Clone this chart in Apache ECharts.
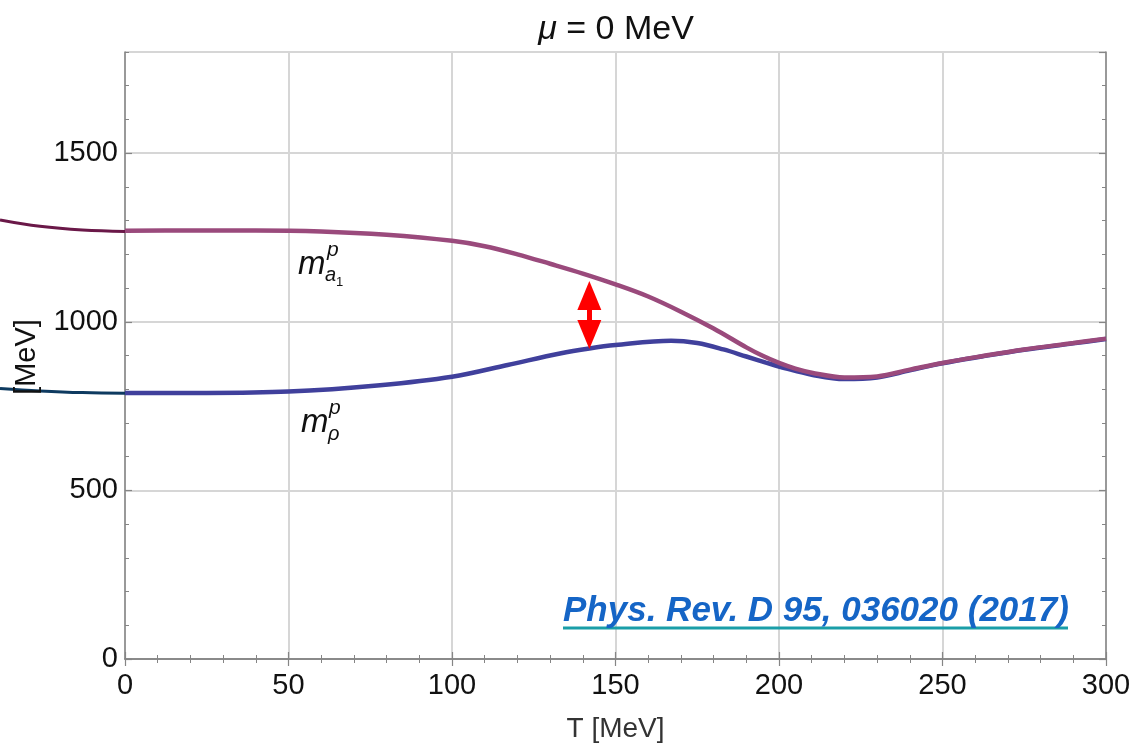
<!DOCTYPE html>
<html>
<head>
<meta charset="utf-8">
<script src="https://cdn.jsdelivr.net/npm/echarts@6/dist/echarts.min.js"></script>
<style>html,body{margin:0;padding:0;background:#fff}#c{width:1141px;height:749px}</style>
</head>
<body>
<div id="c"></div>
<script>
// ---- data ----
const titleText = 'μ = 0 MeV';
const xName = 'T [MeV]';
const yName = '[MeV]';
const refText = 'Phys. Rev. D 95, 036020 (2017)';
const xTicks = [0, 50, 100, 150, 200, 250, 300];
const yTicks = [0, 500, 1000, 1500];
// m_a1^p
const a1Mass = [[0,1270],[20,1271],[40,1271],[60,1268],[80,1258],[100,1240],[110,1224],[120,1200],[130,1172],[140,1143],[150,1111],[160,1075],[170,1030],[180,980],[190,924],[195,899],[200,878],[205,861],[210,849],[220,835],[230,838],[240,858],[250,878],[262,898],[275,918],[290,937],[300,950]];
// m_rho^p
const rhoMass = [[0,789],[25,789],[50,793],[78,812],[100,837],[117,872],[133,906],[142,921],[150,931],[167,944],[175,937],[183,918],[190,897],[196,879],[202,862],[210,843],[220,830],[230,835],[240,856],[250,877],[262,897],[275,917],[290,936],[300,949]];
// curve continuation visible left of the frame (T < 0)
const a1Left = [[-38.2,1302],[-26,1283],[-13,1272],[0,1268]];
const rhoLeft = [[-38.2,802],[-26,795],[-13,790],[0,788]];
// gap arrow at T = 142
const arrowT = 142;
const arrowFrom = 1078, arrowTo = 962;

const frame = '#858585';
const chart = echarts.init(document.getElementById('c'));
const FONT = 'Liberation Sans, Arial, sans-serif';

const baseX = {
  type: 'value', min: xTicks[0], max: xTicks[xTicks.length-1], interval: 50, gridIndex: 0,
  axisLine: {show: true, lineStyle: {color: frame, width: 1.5}},
  axisTick: {show: true, inside: true, length: 7, lineStyle: {color: frame, width: 1.2}},
  minorTick: {show: true, splitNumber: 5, length: 4, lineStyle: {color: frame, width: 1}},
  splitLine: {show: false}
};
const baseY = {
  type: 'value', min: yTicks[0], max: 1800, gridIndex: 0,
  axisLine: {show: true, lineStyle: {color: frame, width: 1.5}},
  splitLine: {show: false}, axisLabel: {show: false}
};

chart.setOption({
  animation: false,
  backgroundColor: '#fff',
  grid: [
    {left: 125, right: 35, top: 52, bottom: 90},
    {left: 0, width: 125, top: 52, bottom: 90}
  ],
  xAxis: [
    Object.assign({}, baseX, {
      position: 'bottom',
      name: xName, nameLocation: 'middle', nameGap: 56,
      nameTextStyle: {fontFamily: FONT, fontSize: 28, color: '#333'},
      axisLabel: {show: true, fontFamily: FONT, fontSize: 29, color: '#111', margin: 12,
        formatter: v => String(v)},
      splitLine: {show: true, lineStyle: {color: '#d6d6d6', width: 2}}
    }),
    Object.assign({}, baseX, {position: 'top', axisLabel: {show: false}}),
    {type: 'value', gridIndex: 1, min: -38.2, max: 0, show: false}
  ],
  yAxis: [
    Object.assign({}, baseY, {
      position: 'left', interval: 500,
      axisTick: {show: true, inside: true, length: 7, lineStyle: {color: frame, width: 1.2}},
      axisLabel: {show: true, fontFamily: FONT, fontSize: 29, color: '#111', margin: 7, showMaxLabel: false,
        formatter: v => (yTicks.indexOf(v) >= 0 ? String(v) : '')},
      splitLine: {show: true, lineStyle: {color: '#d6d6d6', width: 2}}
    }),
    Object.assign({}, baseY, {
      position: 'left', interval: 100, axisLine: {show: false},
      axisTick: {show: true, inside: true, length: 4, lineStyle: {color: frame, width: 1}}
    }),
    Object.assign({}, baseY, {
      position: 'right', interval: 500,
      axisTick: {show: true, inside: true, length: 7, lineStyle: {color: frame, width: 1.2}}
    }),
    Object.assign({}, baseY, {
      position: 'right', interval: 100, axisLine: {show: false},
      axisTick: {show: true, inside: true, length: 4, lineStyle: {color: frame, width: 1}}
    }),
    {type: 'value', gridIndex: 1, min: 0, max: 1800, show: false}
  ],
  series: [
    {
      type: 'line', xAxisIndex: 0, yAxisIndex: 0, data: rhoMass, smooth: 0.35,
      showSymbol: false, lineStyle: {color: '#40409c', width: 4.5}, z: 3,
      markLine: {
        silent: true, symbol: ['triangle', 'triangle'], symbolSize: [24, 29],
        label: {show: false},
        lineStyle: {color: '#ff0000', width: 5, type: 'solid'},
        data: [[{coord: [arrowT, arrowFrom]}, {coord: [arrowT, arrowTo]}]]
      }
    },
    {
      type: 'line', xAxisIndex: 0, yAxisIndex: 0, data: a1Mass, smooth: 0.35,
      showSymbol: false, lineStyle: {color: '#9a4a7c', width: 4.5}, z: 4
    },
    {
      type: 'line', xAxisIndex: 2, yAxisIndex: 4, data: rhoLeft, smooth: 0.4,
      showSymbol: false, lineStyle: {color: '#0e3a60', width: 3}, z: 3
    },
    {
      type: 'line', xAxisIndex: 2, yAxisIndex: 4, data: a1Left, smooth: 0.4,
      showSymbol: false, lineStyle: {color: '#6a1848', width: 3}, z: 3
    }
  ],
  graphic: [
    {type: 'text', x: 616, y: 30, z: 10, style: {
      text: '{i|μ} = 0 MeV', fontFamily: FONT, fontSize: 34, fill: '#111', align: 'center', verticalAlign: 'middle',
      rich: {i: {fontStyle: 'italic', fontFamily: FONT, fontSize: 34, fill: '#111'}}
    }},
    {type: 'text', x: 27, y: 357, rotation: Math.PI/2, z: 10, style: {
      text: yName, fontFamily: FONT, fontSize: 29, fill: '#111', align: 'center', verticalAlign: 'middle'
    }},
    // m_a1^p label
    {type: 'text', x: 298, y: 265, z: 10, style: {text: 'm', fontFamily: FONT, fontStyle: 'italic', fontSize: 33, fill: '#111', align: 'left', verticalAlign: 'middle'}},
    {type: 'text', x: 327, y: 250, z: 10, style: {text: 'p', fontFamily: FONT, fontStyle: 'italic', fontSize: 21, fill: '#111', align: 'left', verticalAlign: 'middle'}},
    {type: 'text', x: 325, y: 275, z: 10, style: {text: 'a', fontFamily: FONT, fontStyle: 'italic', fontSize: 20, fill: '#111', align: 'left', verticalAlign: 'middle'}},
    {type: 'text', x: 336, y: 282, z: 10, style: {text: '1', fontFamily: FONT, fontSize: 13, fill: '#111', align: 'left', verticalAlign: 'middle'}},
    // m_rho^p label
    {type: 'text', x: 301, y: 423, z: 10, style: {text: 'm', fontFamily: FONT, fontStyle: 'italic', fontSize: 33, fill: '#111', align: 'left', verticalAlign: 'middle'}},
    {type: 'text', x: 329, y: 408, z: 10, style: {text: 'p', fontFamily: FONT, fontStyle: 'italic', fontSize: 21, fill: '#111', align: 'left', verticalAlign: 'middle'}},
    {type: 'text', x: 328, y: 434, z: 10, style: {text: 'ρ', fontFamily: FONT, fontStyle: 'italic', fontSize: 20, fill: '#111', align: 'left', verticalAlign: 'middle'}},
    // reference
    {type: 'text', x: 563, y: 611, z: 10, style: {
      text: refText, fontFamily: FONT, fontStyle: 'italic', fontWeight: 'bold', fontSize: 35, fill: '#1565c6', align: 'left', verticalAlign: 'middle'
    }},
    {type: 'line', z: 9, shape: {x1: 563, y1: 628, x2: 1068, y2: 628}, style: {stroke: '#1a9ea8', lineWidth: 3}}
  ]
});
</script>
</body>
</html>
